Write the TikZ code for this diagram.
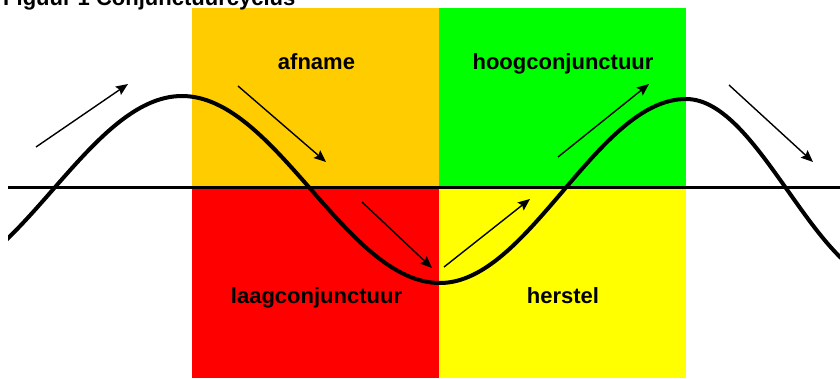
\documentclass[tikz,border=0pt]{standalone}
\usepackage{fontspec}
\setmainfont{Liberation Sans}
\usetikzlibrary{arrows.meta}
\definecolor{cOrange}{HTML}{FFCC00}
\definecolor{cGreen}{HTML}{00FF00}
\definecolor{cRed}{HTML}{FF0000}
\definecolor{cYellow}{HTML}{FFFF00}
\begin{document}
\begin{tikzpicture}[x=1pt,y=-1pt,
  lbl/.style={font=\fontsize{22}{26}\selectfont\bfseries, inner sep=0pt, anchor=base},
  arr/.style={line width=1.4pt, -{Stealth[length=12pt,width=10pt,inset=2pt]}},
  wave/.style={line width=4pt},
  axisline/.style={line width=3pt},
  quad/.style={draw=none, inner sep=0pt, minimum width=247pt, anchor=north west}]
\useasboundingbox (0,0) rectangle (840,378);
% quadrants
\node[quad, fill=cOrange, minimum height=179pt] (qA) at (192,8) {};
\node[quad, fill=cGreen, minimum height=179pt] (qB) at (439,8) {};
\node[quad, fill=cRed, minimum height=191pt] (qC) at (192,187) {};
\node[quad, fill=cYellow, minimum height=191pt] (qD) at (439,187) {};
% title (cut off at top, as in the reference)
\node[lbl, anchor=base west] (title) at (3,5) {Figuur 1 Conjunctuurcyclus};
% axis
\coordinate (axL) at (8,187);
\coordinate (axR) at (840,187);
\draw[axisline] (axL) -- (axR);
% wave
\begin{scope}
\clip (8,0) rectangle (840,378);
\draw[wave] (-76,283) .. controls (18,283) and (88,96) .. (182,96)
  .. controls (276,96) and (346,283) .. (440,283)
  .. controls (529,283) and (597,99) .. (686,99)
  .. controls (760,99) and (816,283) .. (890,283);
\end{scope}
% arrows
\coordinate (a1s) at (36,147);  \coordinate (a1e) at (128,84);
\coordinate (a2s) at (238,86);  \coordinate (a2e) at (326,162);
\coordinate (a3s) at (362,202); \coordinate (a3e) at (432,268);
\coordinate (a4s) at (444,267); \coordinate (a4e) at (530,199);
\coordinate (a5s) at (558,157); \coordinate (a5e) at (649,84);
\coordinate (a6s) at (729,85);  \coordinate (a6e) at (813,162);
\draw[arr] (a1s) -- (a1e);
\draw[arr] (a2s) -- (a2e);
\draw[arr] (a3s) -- (a3e);
\draw[arr] (a4s) -- (a4e);
\draw[arr] (a5s) -- (a5e);
\draw[arr] (a6s) -- (a6e);
% labels
\node[lbl] (lA) at (316.5,69) {afname};
\node[lbl] (lB) at (563,69) {hoogconjunctuur};
\node[lbl] (lC) at (316.5,303) {laagconjunctuur};
\node[lbl] (lD) at (563,303) {herstel};
\end{tikzpicture}
\end{document}
